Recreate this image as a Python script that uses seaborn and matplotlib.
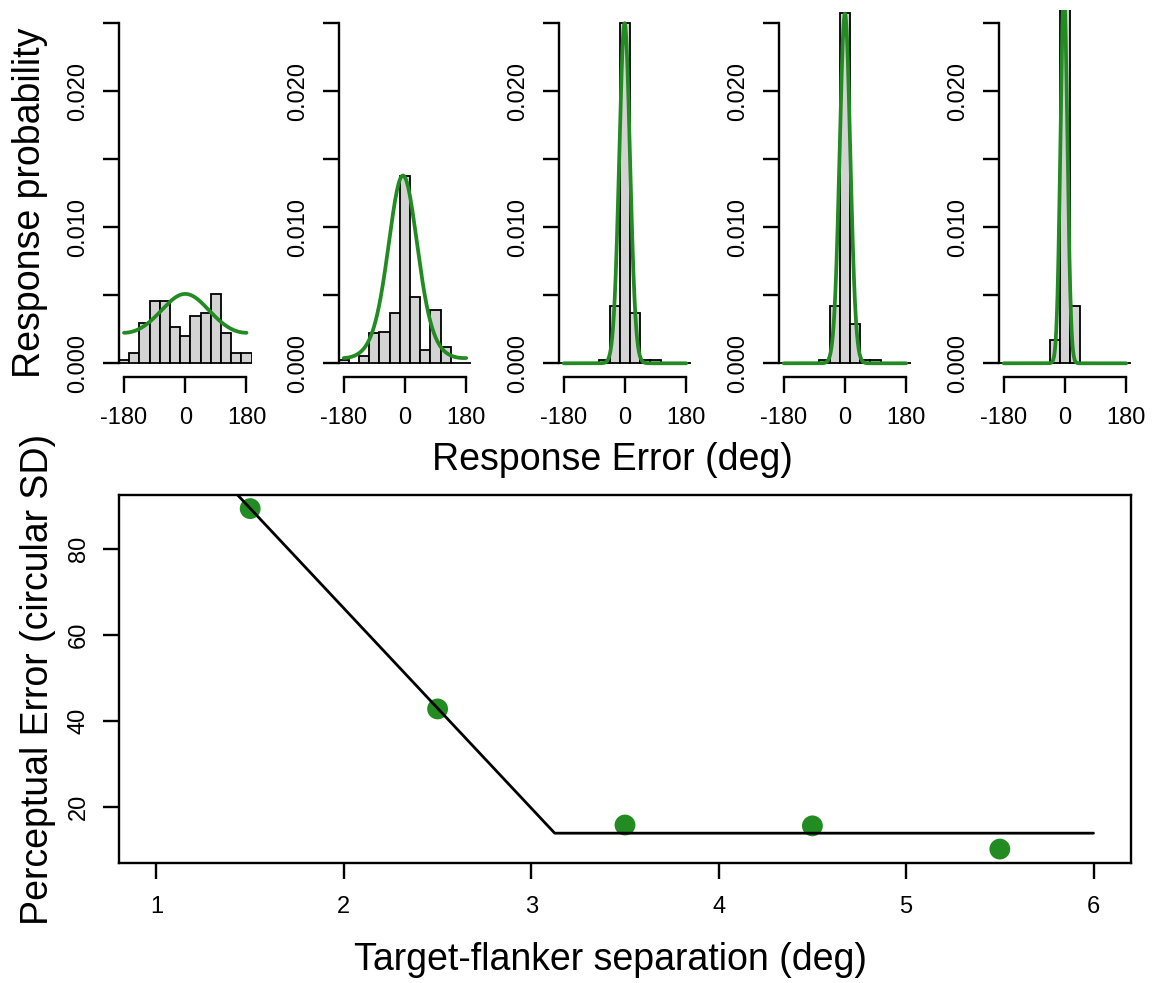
import numpy as np
import pandas as pd
import matplotlib
matplotlib.use("Agg")
import matplotlib.pyplot as plt
import seaborn as sns

# ---- data -----------------------------------------------------------------
# response-error histograms (probability per degree), 30-deg bins
bin_centers = [-180, -150, -120, -90, -60, -30, 0, 30, 60, 90, 120, 150, 180]
hist_sep_1_5 = [0.00025, 0.00074, 0.00295, 0.0046, 0.0046, 0.0027, 0.00197,
                0.00344, 0.00369, 0.00511, 0.00226, 0.00074, 0.00074]
hist_sep_2_5 = [0.00025, 0.0, 0.0005, 0.0022, 0.0023, 0.0037, 0.0138,
                0.0049, 0.0010, 0.0039, 0.0012, 0.0, 0.0]
hist_sep_3_5 = [0.0, 0.0, 0.0, 0.0, 0.00025, 0.0042, 0.0250,
                0.0037, 0.00025, 0.00025, 0.0, 0.0, 0.0]
hist_sep_4_5 = [0.0, 0.0, 0.0, 0.0, 0.00025, 0.0042, 0.02575,
                0.0029, 0.00025, 0.00025, 0.0, 0.0, 0.0]
hist_sep_5_5 = [0.0, 0.0, 0.0, 0.0, 0.0, 0.0017, 0.0274,
                0.0042, 0.0, 0.0, 0.0, 0.0, 0.0]
histograms = [hist_sep_1_5, hist_sep_2_5, hist_sep_3_5, hist_sep_4_5, hist_sep_5_5]

# fitted von Mises curves: peak height, centre (deg)
fit_peak = [0.0051, 0.0138, 0.0250, 0.0257, 0.0274]
fit_mean = [0.0, -6.0, -1.0, 0.0, -3.0]

# perceptual error per target-flanker separation
separation = [1.5, 2.5, 3.5, 4.5, 5.5]
circular_sd = [89.4, 42.8, 15.8, 15.6, 10.2]

# bilinear fit (vertices)
fit_line_x = [1.0, 3.125, 6.0]
fit_line_y = [112.7, 13.9, 13.9]

hist_ticks = [-180, 0, 180]
prob_ticks = [0.0, 0.005, 0.010, 0.015, 0.020, 0.025]
prob_labels = ["0.000", "", "0.010", "", "0.020", ""]
sep_ticks = [1, 2, 3, 4, 5, 6]
err_ticks = [20, 40, 60, 80]

# ---- style ----------------------------------------------------------------
sns.set_theme(style="white")
plt.rcParams["font.family"] = ["Liberation Sans", "DejaVu Sans"]
plt.rcParams["axes.linewidth"] = 1.7
plt.rcParams["text.color"] = "black"
plt.rcParams["axes.labelcolor"] = "black"
plt.rcParams["xtick.color"] = "black"
plt.rcParams["ytick.color"] = "black"

GREEN = "forestgreen"
W, H = 1153, 983
fig = plt.figure(figsize=(W / 100, H / 100), dpi=100)


def px_axes(left, top, right, bottom):
    return fig.add_axes([left / W, 1 - bottom / H, (right - left) / W, (bottom - top) / H])


TICK_FS = 17
LABEL_FS = 27

edges = list(np.arange(-195, 196, 30))
theta = np.linspace(-180, 180, 721)
panel_centres = [185.3, 405.0, 625.0, 845.0, 1065.0]

for i, (hist, centre) in enumerate(zip(histograms, panel_centres)):
    ax = px_axes(centre - 66.4, 9.6, centre + 66.3, 376.9)
    df = pd.DataFrame({"error": bin_centers, "prob": hist})
    sns.histplot(data=df, x="error", weights="prob", bins=edges, stat="count",
                 color="lightgray", edgecolor="black", linewidth=1.3, alpha=1.0,
                 ax=ax)
    sd_rad = np.deg2rad(circular_sd[i])
    kappa = 1.0 / sd_rad ** 2
    curve = fit_peak[i] * np.exp(kappa * (np.cos(np.deg2rad(theta - fit_mean[i])) - 1))
    sns.lineplot(x=theta, y=curve, color=GREEN, linewidth=2.7, ax=ax)
    ax.set_xlim(-195, 195)
    ax.set_ylim(-0.001, 0.026)
    ax.set_xlabel("")
    ax.set_ylabel("")
    ax.set_xticks(hist_ticks)
    ax.set_xticklabels([str(t) for t in hist_ticks])
    ax.set_yticks(prob_ticks)
    ax.set_yticklabels(prob_labels, rotation=90, va="center")
    for s in ("top", "right"):
        ax.spines[s].set_visible(False)
    ax.spines["left"].set_bounds(0, 0.025)
    ax.spines["bottom"].set_bounds(-180, 180)
    ax.spines["left"].set_color("black")
    ax.spines["bottom"].set_color("black")
    ax.tick_params(axis="both", which="major", length=11.2, width=1.7,
                   color="black", labelsize=TICK_FS, labelcolor="black",
                   direction="out", left=True, bottom=True)
    ax.tick_params(axis="x", pad=10.4)
    ax.tick_params(axis="y", pad=10.0)
    ax.patch.set_alpha(0)

# ---- bottom panel ------------------------------------------------------------
axb = px_axes(119, 495, 1131, 862.7)
sns.scatterplot(x=separation, y=circular_sd, color=GREEN, s=225,
                edgecolor="none", linewidth=0, zorder=2, ax=axb)
sns.lineplot(x=fit_line_x, y=fit_line_y, color="black", linewidth=2.0,
             sort=False, zorder=3, ax=axb)
x_rng = max(sep_ticks) - min(sep_ticks)
axb.set_xlim(min(sep_ticks) - 0.04 * x_rng, max(sep_ticks) + 0.04 * x_rng)
y_rng = max(circular_sd) - min(circular_sd)
axb.set_ylim(min(circular_sd) - 0.04 * y_rng, max(circular_sd) + 0.04 * y_rng)
axb.set_xticks(sep_ticks)
axb.set_xticklabels([str(t) for t in sep_ticks])
axb.set_yticks(err_ticks)
axb.set_yticklabels([str(t) for t in err_ticks], rotation=90, va="center")
for s in axb.spines.values():
    s.set_visible(True)
    s.set_color("black")
    s.set_linewidth(1.7)
axb.tick_params(axis="both", which="major", length=11.2, width=1.7,
                color="black", labelsize=TICK_FS, labelcolor="black",
                direction="out", left=True, bottom=True)
axb.tick_params(axis="x", pad=12.8)
axb.tick_params(axis="y", pad=10.0)
axb.set_xlabel("")
axb.set_ylabel("")

# ---- axis titles -----------------------------------------------------------
fig.text(30 / W, 1 - 203 / H, "Response probability", rotation=90,
         ha="center", va="center", fontsize=LABEL_FS)
fig.text(612 / W, 1 - 460 / H, "Response Error (deg)",
         ha="center", va="center", fontsize=LABEL_FS)
fig.text(38 / W, 1 - 679 / H, "Perceptual Error (circular SD)", rotation=90,
         ha="center", va="center", fontsize=LABEL_FS)
fig.text(611 / W, 1 - 960 / H, "Target-flanker separation (deg)",
         ha="center", va="center", fontsize=LABEL_FS)

fig.savefig("out.png", dpi=100, facecolor="white")
